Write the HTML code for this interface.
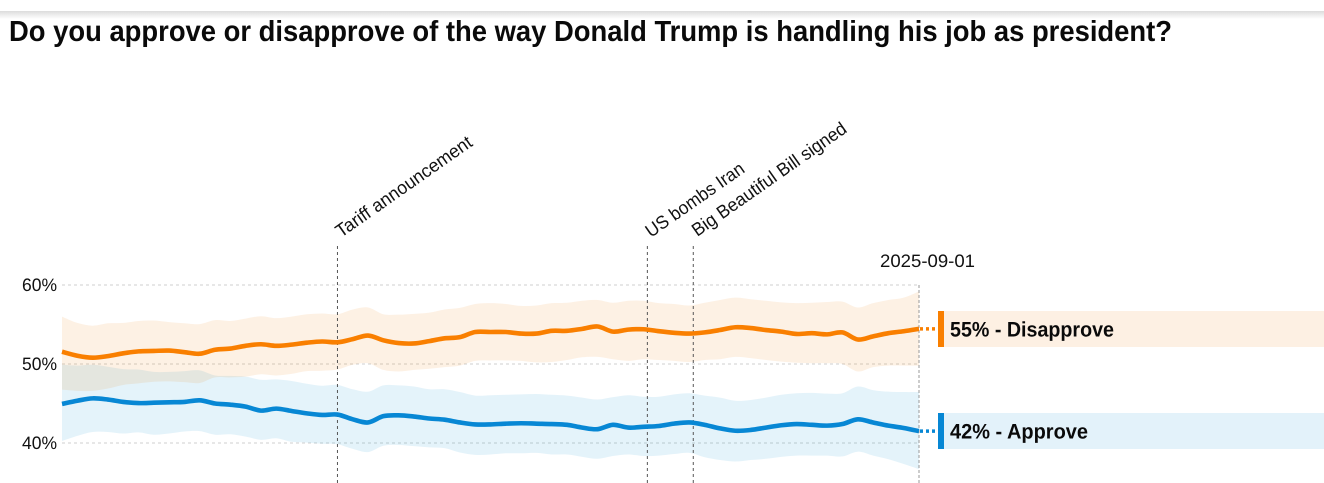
<!DOCTYPE html>
<html lang="en">
<head>
<meta charset="utf-8">
<title>Trump approval chart</title>
<style>
html,body{margin:0;padding:0;background:#fff;width:1324px;height:483px;overflow:hidden}
svg{display:block;font-family:"Liberation Sans",sans-serif;text-rendering:geometricPrecision}
</style>
</head>
<body>
<svg id="chart" width="1324" height="483" viewBox="0 0 1324 483" xmlns="http://www.w3.org/2000/svg">
  <defs>
    <linearGradient id="top-shadow" x1="0" y1="0" x2="0" y2="1">
      <stop offset="0" stop-color="#dcdcdc"/>
      <stop offset="1" stop-color="#ffffff"/>
    </linearGradient>
  </defs>
  <rect x="0" y="11" width="1324" height="8" fill="url(#top-shadow)"/>
  <text x="9" y="41" font-size="29" font-weight="700" fill="#0a0a0a" textLength="1163" lengthAdjust="spacingAndGlyphs">Do you approve or disapprove of the way Donald Trump is handling his job as president?</text>
  <g id="plot"></g>
</svg>
<script>
const sampleDays = [0,4,8,12,16,20,24,28,32,36,40,44,48,52,56,60,64,68,72,76,80,84,88,92,96,100,104,108,112,116,120,124,128,132,136,140,144,148,152,156,160,164,168,172,176,180,184,188,192,196,200,204,208,212,216,220,224];
const disapprove = [51.55,51.05,50.8,51.0,51.35,51.6,51.65,51.7,51.5,51.3,51.8,51.95,52.3,52.5,52.3,52.45,52.7,52.85,52.75,53.15,53.6,53.0,52.65,52.6,52.9,53.25,53.4,54.05,54.05,54.05,53.85,53.85,54.2,54.2,54.45,54.75,54.1,54.35,54.4,54.15,53.95,53.85,54.0,54.3,54.65,54.55,54.3,54.1,53.8,53.9,53.75,54.0,53.1,53.5,53.9,54.15,54.45];
const disapproveUpper = [56.0,55.2,54.85,55.15,55.2,55.45,55.5,55.3,55.15,55.05,55.55,55.45,55.75,56.05,55.8,56.0,56.3,56.4,56.3,56.9,57.15,56.3,56.25,56.35,56.5,56.9,57.1,57.6,57.7,57.6,57.35,57.4,57.7,57.75,58.0,58.1,57.75,58.0,58.0,57.7,57.6,57.4,57.75,58.1,58.4,58.2,58.0,57.8,57.7,57.75,57.85,57.9,57.15,57.7,58.1,58.4,59.2];
const disapproveLower = [46.75,46.6,46.6,46.9,47.35,47.55,47.75,47.8,47.7,47.6,48.3,48.3,48.4,48.7,48.55,48.75,49.1,49.15,49.3,49.9,50.1,49.25,49.05,49.25,49.4,49.6,49.8,50.4,50.45,50.45,50.4,50.2,50.25,50.5,50.85,50.9,50.6,50.4,50.6,50.5,50.4,50.25,50.5,50.6,50.9,50.75,50.5,50.3,50.15,50.1,50.1,50.0,49.05,49.6,49.8,49.8,49.8];
const approve = [44.95,45.35,45.65,45.5,45.2,45.05,45.1,45.15,45.2,45.4,45.0,44.85,44.6,44.1,44.35,44.05,43.75,43.55,43.6,43.0,42.6,43.4,43.5,43.35,43.1,42.95,42.6,42.35,42.35,42.45,42.5,42.45,42.4,42.3,41.95,41.75,42.3,41.95,42.05,42.15,42.45,42.6,42.3,41.85,41.55,41.65,41.95,42.25,42.4,42.3,42.2,42.4,43.0,42.6,42.2,41.9,41.5];
const approveUpper = [49.9,49.8,49.9,49.65,49.35,49.3,49.0,49.0,49.1,49.2,48.55,48.5,48.4,48.0,48.05,47.85,47.5,47.25,47.35,46.8,46.5,47.3,47.3,47.15,46.8,46.8,46.45,46.0,46.05,46.1,46.15,46.2,46.1,46.0,45.75,45.5,45.8,46.05,45.85,45.85,46.15,46.3,46.0,45.75,45.35,45.45,45.75,46.1,46.3,46.35,46.25,46.3,47.15,46.7,46.5,46.45,46.45];
const approveLower = [40.25,40.9,41.4,41.4,41.2,41.35,41.05,41.2,41.45,41.5,41.05,41.1,40.8,40.4,40.6,40.15,40.05,39.9,39.85,39.25,38.85,39.65,39.75,39.6,39.45,39.35,38.8,38.5,38.55,38.7,38.7,38.75,38.55,38.55,38.25,38.0,38.35,38.55,38.35,38.4,38.6,38.75,38.2,37.85,37.65,37.85,38.0,38.25,38.4,38.4,38.4,38.3,38.9,38.4,37.95,37.35,36.7];
const yTicks = [40,50,60];
const yTickLabels = ["40%","50%","60%"];
const eventDays = [72,153,165];
const eventNames = ["Tariff announcement","US bombs Iran","Big Beautiful Bill signed"];
const endDay = 224;
const endDateLabel = "2025-09-01";
const legendValues = [55,42];
const legendNames = ["Disapprove","Approve"];

const SVGNS = "http://www.w3.org/2000/svg";
const plot = document.getElementById("plot");
const x = d => 62 + (d / endDay) * 857;
const y = v => 443 - (v - 40) * 7.9;

function mk(tag, attrs, parent) {
  const el = document.createElementNS(SVGNS, tag);
  for (const k in attrs) el.setAttribute(k, attrs[k]);
  (parent || plot).appendChild(el);
  return el;
}
function curveSegs(pts) {
  let d = "";
  for (let i = 0; i < pts.length - 1; i++) {
    const p0 = pts[Math.max(i - 1, 0)], p1 = pts[i], p2 = pts[i + 1], p3 = pts[Math.min(i + 2, pts.length - 1)];
    const c1x = p1[0] + (p2[0] - p0[0]) / 6, c1y = p1[1] + (p2[1] - p0[1]) / 6;
    const c2x = p2[0] - (p3[0] - p1[0]) / 6, c2y = p2[1] - (p3[1] - p1[1]) / 6;
    d += ` C${c1x.toFixed(2)} ${c1y.toFixed(2)} ${c2x.toFixed(2)} ${c2y.toFixed(2)} ${p2[0].toFixed(2)} ${p2[1].toFixed(2)}`;
  }
  return d;
}
const toPts = vals => vals.map((v, i) => [x(sampleDays[i]), y(v)]);
function linePath(vals) {
  const pts = toPts(vals);
  return `M${pts[0][0].toFixed(2)} ${pts[0][1].toFixed(2)}` + curveSegs(pts);
}
function bandPath(up, lo) {
  const lp = toPts(lo).reverse();
  return linePath(up) + ` L${lp[0][0].toFixed(2)} ${lp[0][1].toFixed(2)}` + curveSegs(lp) + " Z";
}

// gridlines and y labels
yTicks.forEach((t, i) => {
  const g = mk("line", {x1: 62, x2: 919, y1: y(t), y2: y(t), stroke: "#cfcfcf", "stroke-width": 1, "stroke-dasharray": "3 3"});
  
  
  const l = mk("text", {x: 57, y: y(t) + 6, "text-anchor": "end", "font-size": 18, fill: "#111", textLength: 35, lengthAdjust: "spacingAndGlyphs"});
  l.textContent = yTickLabels[i];
  
  
});

// confidence bands
const bandA = mk("path", {d: bandPath(approveUpper, approveLower), fill: "rgb(0,137,210)", "fill-opacity": 0.105});


const bandD = mk("path", {d: bandPath(disapproveUpper, disapproveLower), fill: "rgb(240,120,0)", "fill-opacity": 0.105});



// event markers
const eventLabelOffsets = [[3.5, 238, 162], [3.5, 238, 116], [4, 237, 184]];
eventDays.forEach((d, i) => {
  const v = mk("line", {x1: x(d), x2: x(d), y1: 246, y2: 483, stroke: "#555", "stroke-width": 1, "stroke-dasharray": "3 3"});
  
  
  const tx = x(d) + eventLabelOffsets[i][0], ty = eventLabelOffsets[i][1];
  const t = mk("text", {x: tx, y: ty, transform: `rotate(-35 ${tx} ${ty})`, "font-size": 18.5, fill: "#111", textLength: eventLabelOffsets[i][2], lengthAdjust: "spacingAndGlyphs"});
  t.textContent = eventNames[i];
  
  
});

// end date marker
const endLine = mk("line", {x1: x(endDay), x2: x(endDay), y1: 285, y2: 483, stroke: "#999", "stroke-width": 1, "stroke-dasharray": "3 2"});


const endText = mk("text", {x: 880, y: 267, "font-size": 18, fill: "#111", textLength: 95, lengthAdjust: "spacingAndGlyphs"});
endText.textContent = endDateLabel;



// series
const series = [
  {vals: disapprove, color: "#f97f00", tint: "#fdf0e3", textLen: 164},
  {vals: approve, color: "#0787d4", tint: "#e3f2fa", textLen: 138}
];
const labelCenters = [329, 431];
series.forEach((s, i) => {
  const last = s.vals[s.vals.length - 1];
  const p = mk("path", {d: linePath(s.vals), fill: "none", stroke: s.color, "stroke-width": 4.6, "stroke-linejoin": "round", "stroke-linecap": "butt"});
  
  
  const c = mk("line", {x1: x(endDay) + 1, x2: 936, y1: y(last), y2: y(last), stroke: s.color, "stroke-width": 3.5, "stroke-dasharray": "3 3"});
  
  
  const cy = labelCenters[i];
  const bg = mk("rect", {x: 944, y: cy - 18, width: 380, height: 36, fill: s.tint});
  
  
  const bar = mk("rect", {x: 938, y: cy - 18, width: 6, height: 36, fill: s.color});
  
  
  const t = mk("text", {x: 950, y: cy + 7.5, "font-size": 21, "font-weight": 700, fill: "#0a0a0a", textLength: s.textLen, lengthAdjust: "spacingAndGlyphs"});
  t.textContent = legendValues[i] + "% - " + legendNames[i];
  
  
});
</script>
</body>
</html>
